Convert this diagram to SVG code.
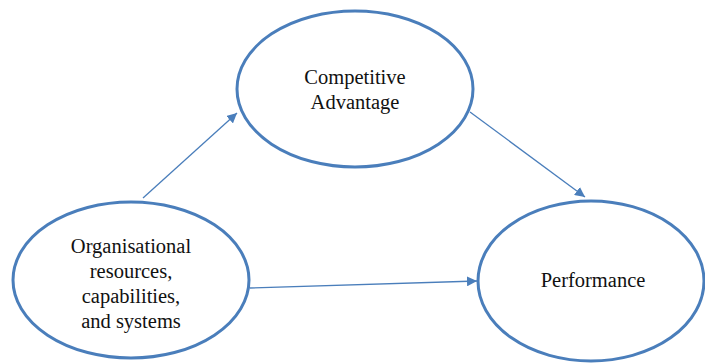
<svg xmlns="http://www.w3.org/2000/svg" width="705" height="363" viewBox="0 0 705 363">
  <style>
    .node { fill: #ffffff; stroke: #4a7ebb; stroke-width: 3; }
    .label { font-size: 20.5px; fill: #111111; text-anchor: middle; }
    .edge { stroke: #4a7ebb; stroke-width: 1.3; fill: none; marker-end: url(#arrow); }
  </style>
  <defs>
    <marker id="arrow" viewBox="0 0 10 10" refX="10" refY="5" markerWidth="10" markerHeight="10" markerUnits="userSpaceOnUse" orient="auto">
      <path d="M0,0 L10,5 L0,10 Z" fill="#4a7ebb"/>
    </marker>
  </defs>
  <rect width="705" height="363" fill="#ffffff"/>

  <g id="connectors">
    <line class="edge" x1="143" y1="198" x2="237" y2="113"/>
    <line class="edge" x1="470" y1="112" x2="585" y2="197"/>
    <line class="edge" x1="250" y1="288" x2="477" y2="281"/>
  </g>

  <g id="node-resources" font-family="Liberation Serif, DejaVu Serif, serif">
    <ellipse class="node" cx="131" cy="280" rx="118" ry="78"/>
    <text class="label" x="131" y="253">Organisational</text>
    <text class="label" x="131" y="278">resources,</text>
    <text class="label" x="131" y="303">capabilities,</text>
    <text class="label" x="131" y="328">and systems</text>
  </g>

  <g id="node-advantage" font-family="Liberation Serif, DejaVu Serif, serif">
    <ellipse class="node" cx="355" cy="89" rx="118" ry="78"/>
    <text class="label" x="355" y="84">Competitive</text>
    <text class="label" x="355" y="109">Advantage</text>
  </g>

  <g id="node-performance" font-family="Liberation Serif, DejaVu Serif, serif">
    <ellipse class="node" cx="591" cy="281" rx="113" ry="80"/>
    <text class="label" x="593" y="287">Performance</text>
  </g>
</svg>
